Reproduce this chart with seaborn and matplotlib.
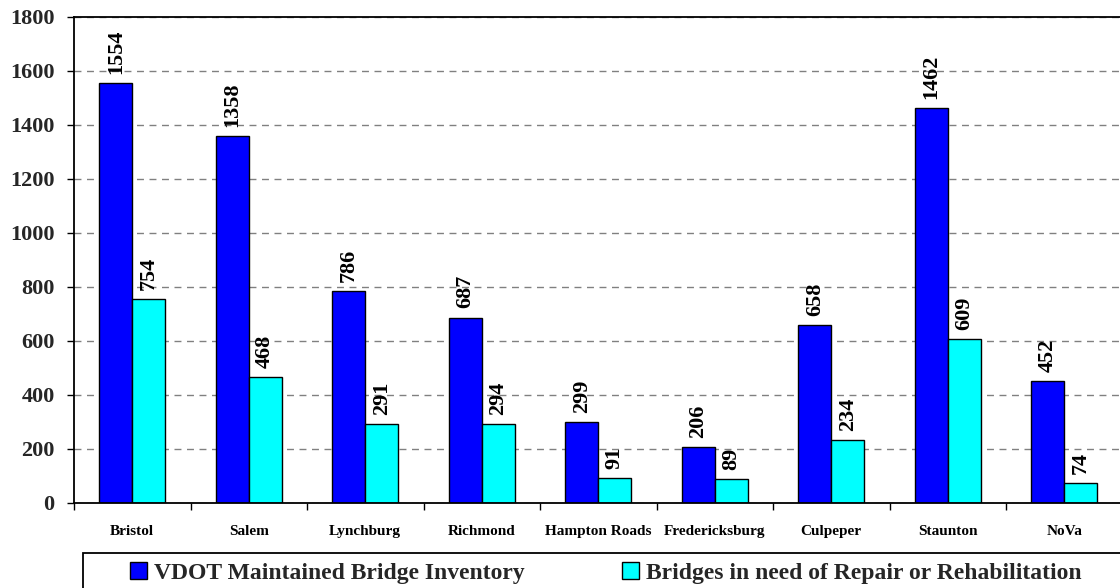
import numpy as np
import pandas as pd
import matplotlib
matplotlib.use("Agg")
import matplotlib.pyplot as plt
from matplotlib.patches import Rectangle
import seaborn as sns

districts = ['Bristol', 'Salem', 'Lynchburg', 'Richmond', 'Hampton Roads',
             'Fredericksburg', 'Culpeper', 'Staunton', 'NoVa']
inventory = [1554, 1358, 786, 687, 299, 206, 658, 1462, 452]
need_repair = [754, 468, 291, 294, 91, 89, 234, 609, 74]
series_names = ['VDOT Maintained Bridge Inventory',
                'Bridges in need of Repair or Rehabilitation']
y_ticks = list(range(0, 1801, 200))

df = pd.DataFrame({
    'district': districts * 2,
    'count': inventory + need_repair,
    'series': [series_names[0]] * len(districts) + [series_names[1]] * len(districts),
})

sns.set_theme(style='white')
plt.rcParams['font.family'] = ['Liberation Serif', 'DejaVu Serif']
plt.rcParams['font.weight'] = 'bold'

W, H = 1120, 588
fig = plt.figure(figsize=(W / 100, H / 100), dpi=100)
ax = fig.add_axes([74 / W, 1 - 503 / H, (1122.5 - 74) / W, (503 - 17) / H])

sns.barplot(data=df, x='district', y='count', hue='series', order=districts,
            hue_order=series_names, palette=['#0000FF', '#00FFFF'],
            saturation=1, width=0.566, gap=0, edgecolor='black', linewidth=1,
            legend=False, ax=ax)

for cont in ax.containers:
    ax.bar_label(cont, rotation=90, padding=6.5, fontsize=16, fontweight='bold',
                 color='black')

ax.set_xlim(-0.5, 8.5)
ax.set_ylim(0, 1800)
ax.set_yticks(y_ticks)
ax.set_yticklabels([str(v) for v in y_ticks], fontsize=16, fontweight='bold')
ax.set_xticks(range(len(districts)))
ax.set_xticklabels(districts, fontsize=11, fontweight='bold')
ax.set_xticks(np.arange(-0.5, 9, 1.0), minor=True)
ax.tick_params(axis='x', which='major', length=0, pad=16, colors='black')
ax.tick_params(axis='x', which='minor', length=5, width=1, color='black',
               direction='out', bottom=True)
ax.tick_params(axis='y', length=5, width=1, color='black', direction='out',
               left=True, pad=9)
ax.set_xlabel('')
ax.set_ylabel('')

ax.set_axisbelow(True)
ax.yaxis.grid(True, linestyle=(0, (5, 4)), color='#808080', linewidth=1)
for side in ['left', 'bottom', 'top', 'right']:
    ax.spines[side].set_visible(True)
    ax.spines[side].set_color('black')
    ax.spines[side].set_linewidth(1.3)

# legend box, running off the bottom/right edge as in the original
fig.add_artist(Rectangle((83 / W, -0.05), 1.0, 1 - 553 / H + 0.05,
                         transform=fig.transFigure, fill=False,
                         edgecolor='black', linewidth=1.3))

leg_pos = [(130 / W, series_names[0]), (622 / W, series_names[1])]
for cont, (xpos, name) in zip(ax.containers, leg_pos):
    fig.legend(handles=[cont], labels=[name], loc='center left',
               bbox_to_anchor=(xpos, 1 - 573 / H), frameon=False,
               borderpad=0, borderaxespad=0, handlelength=0.72,
               handleheight=0.72, handletextpad=0.3,
               prop={'family': 'Liberation Serif', 'weight': 'bold', 'size': 17})

fig.savefig('out.png', dpi=100)
